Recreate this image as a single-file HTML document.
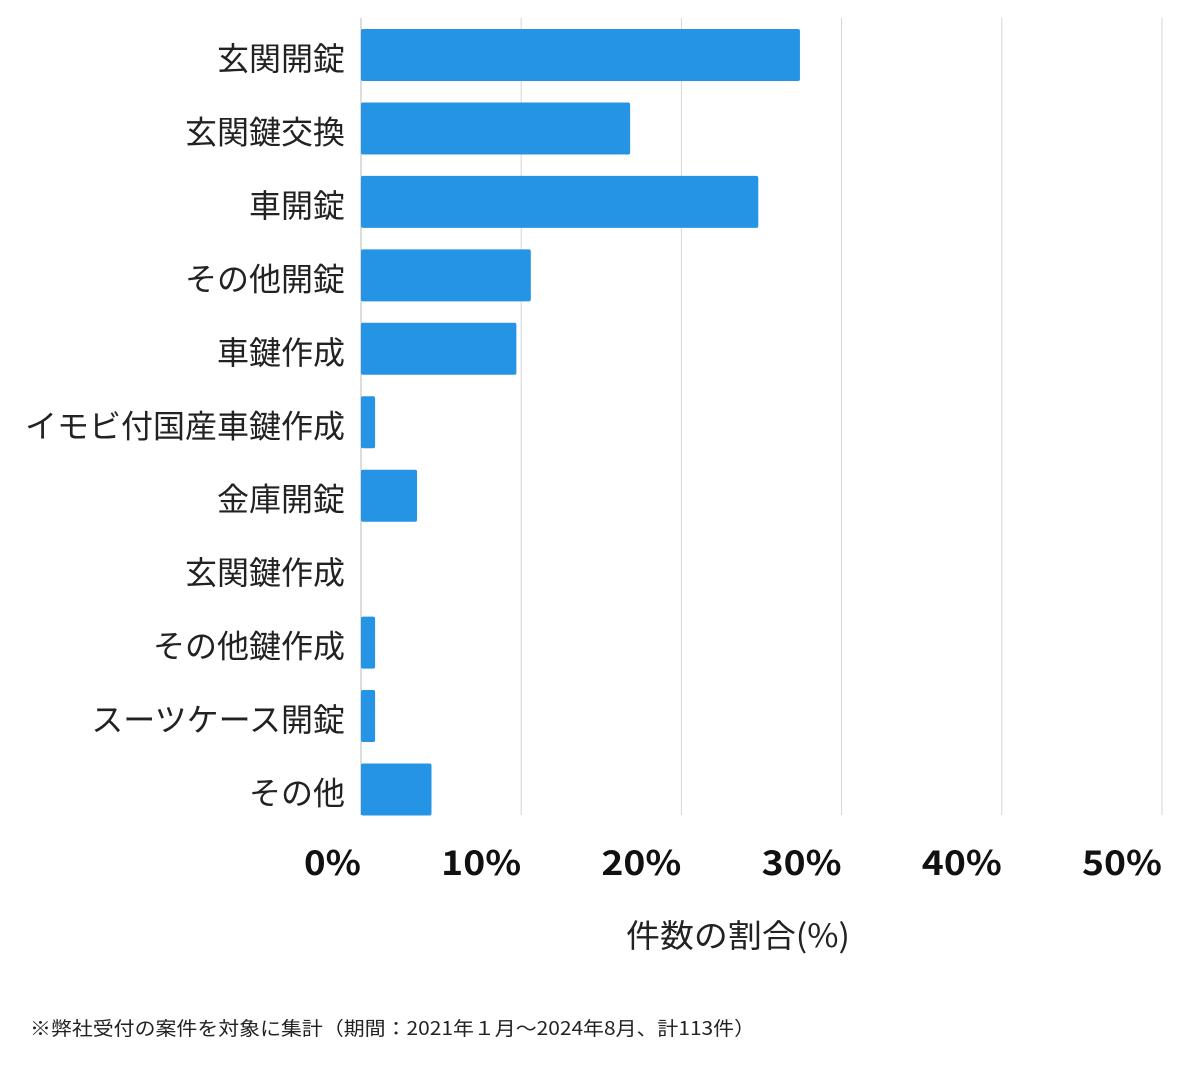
<!DOCTYPE html>
<html><head><meta charset="utf-8"><style>
html,body{margin:0;padding:0;background:#fff;}
body{width:1200px;height:1069px;overflow:hidden;font-family:"Noto Sans CJK JP","Liberation Sans",sans-serif;}
</style></head><body>
<svg id="chart" width="1200" height="1069" xmlns="http://www.w3.org/2000/svg" font-family="'Noto Sans CJK JP','Liberation Sans',sans-serif"></svg>
<script>
const categories=["玄関開錠","玄関鍵交換","車開錠","その他開錠","車鍵作成","イモビ付国産車鍵作成","金庫開錠","玄関鍵作成","その他鍵作成","スーツケース開錠","その他"];
const values=[27.4,16.8,24.8,10.6,9.7,0.88,3.5,0,0.88,0.88,4.4];
const ticks=[0,10,20,30,40,50];
const tickLabels=["0%","10%","20%","30%","40%","50%"];
(function(){
const svg=document.getElementById('chart');
const NS="http://www.w3.org/2000/svg";
const x0=361,x1=1162,plotTop=18,plotBottom=815;
const xs=v=>x0+(v/50)*(x1-x0);
const band=73.45;
const ys=i=>55+band*i;
function mk(t,a,txt){const e=document.createElementNS(NS,t);for(const k in a)e.setAttribute(k,a[k]);if(txt!==undefined)e.textContent=txt;svg.appendChild(e);return e;}
ticks.forEach((t,i)=>{
 const g=mk('line',{x1:xs(t),x2:xs(t),y1:plotTop,y2:plotBottom,stroke:i===0?'#bbb':'#d6d6d6','stroke-width':1});
 
 
 const w=tickLabels[i].length===2?57:80;
 const l=mk('text',{x:xs(t),y:875,'text-anchor':'end','font-size':34,'font-weight':'bold',fill:'#111',textLength:w,lengthAdjust:'spacingAndGlyphs'},tickLabels[i]);
 
 
});
categories.forEach((c,i)=>{
 const cy=ys(i);
 const r=mk('rect',{x:x0,y:cy-26,width:Math.max(0,xs(values[i])-x0),height:52,fill:'#2594e4',rx:2});
 
 
 const l=mk('text',{x:345,y:cy+15,'text-anchor':'end','font-size':32,fill:'#222'},c);
 
 
});
const at=mk('text',{x:738,y:947,'text-anchor':'middle','font-size':32,fill:'#222',textLength:224,lengthAdjust:'spacingAndGlyphs'},'件数の割合(%)');


const fn=mk('text',{x:30,y:1035,'font-size':19,fill:'#222',textLength:725,lengthAdjust:'spacingAndGlyphs'},'※弊社受付の案件を対象に集計（期間：2021年１月〜2024年8月、計113件）');


})();
</script>
</body></html>
